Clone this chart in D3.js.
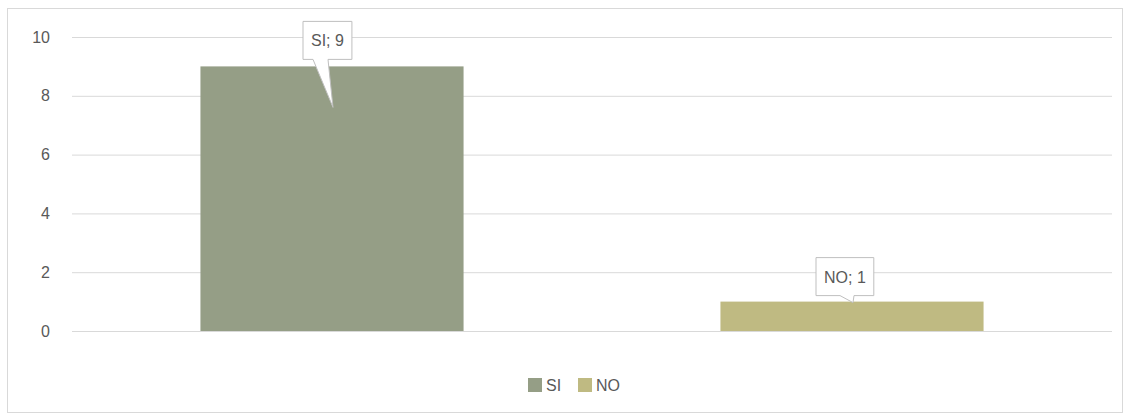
<!DOCTYPE html>
<html><head><meta charset="utf-8">
<script src="https://cdn.jsdelivr.net/npm/d3@7/dist/d3.min.js"></script>
<style>body{margin:0;background:#fff}svg{display:block}</style>
</head><body>
<svg id="c" width="1132" height="417"></svg>
<script>
const categories = ["SI", "NO"];
const values = [9, 1];
const colors = ["#959e86", "#bfba82"];
const yTicks = [0, 2, 4, 6, 8, 10];

const svg = d3.select("#c");
const font = "Liberation Sans, Arial, sans-serif";
svg.append("rect").attr("x", 7.5).attr("y", 8.5).attr("width", 1115).attr("height", 404)
  .attr("fill", "#fff").attr("stroke", "#d9d9d9");

const x = d3.scaleBand().domain(categories).range([72, 1112]).paddingInner(0).paddingOuter(0);
const y = d3.scaleLinear().domain([0, 10]).range([331, 37]);

const yAxis = svg.append("g").attr("transform", "translate(72,0)")
  .call(d3.axisLeft(y).tickValues(yTicks).tickSize(-1040).tickPadding(22));
yAxis.select(".domain").remove();
yAxis.selectAll(".tick line").attr("stroke", "#d9d9d9");
yAxis.selectAll(".tick text").attr("fill", "#595959").style("font-family", font).style("font-size", "16px");

const bw = x.bandwidth() * 0.506;
svg.selectAll(".bar").data(categories).enter().append("rect")
  .attr("x", d => x(d) + (x.bandwidth() - bw) / 2)
  .attr("y", (d, i) => y(values[i]))
  .attr("width", bw)
  .attr("height", (d, i) => y(0) - y(values[i]))
  .attr("fill", (d, i) => colors[i]);

// data labels with callouts
categories.forEach((c, i) => {
  const cx = x(c) + x.bandwidth() / 2;
  const top = y(values[i]);
  const txt = c + "; " + values[i];
  const g = svg.append("g");
  const t = g.append("text").text(txt).style("font-family", font).style("font-size", "16px").attr("fill", "#595959");
  const w = t.node().getComputedTextLength() + 16;
  const h = 38;
  let bx, by, tipY, baseL, baseR;
  if (i === 0) {
    bx = cx - 29; by = top - 45; tipY = top + 41; baseL = cx - 19; baseR = cx - 4;
  } else {
    bx = cx - 36; by = top - 44; tipY = top + 1; baseL = cx - 12; baseR = cx + 2;
  }
  g.insert("path", "text")
    .attr("d", `M${bx},${by} H${bx + w} V${by + h} H${baseR} L${cx + 1},${tipY} L${baseL},${by + h} H${bx} Z`)
    .attr("fill", "#fff").attr("stroke", "#bfbfbf").attr("stroke-width", 1);
  t.attr("x", bx + w / 2).attr("y", by + h / 2 + 6).attr("text-anchor", "middle");
});

// legend
const lg = svg.append("g");
const lx = [528, 578];
categories.forEach((c, i) => {
  lg.append("rect").attr("x", lx[i]).attr("y", 378).attr("width", 14).attr("height", 14).attr("fill", colors[i]);
  lg.append("text").attr("x", lx[i] + 18).attr("y", 391).text(c)
    .style("font-family", font).style("font-size", "16px").attr("fill", "#595959");
});
</script>
</body></html>
